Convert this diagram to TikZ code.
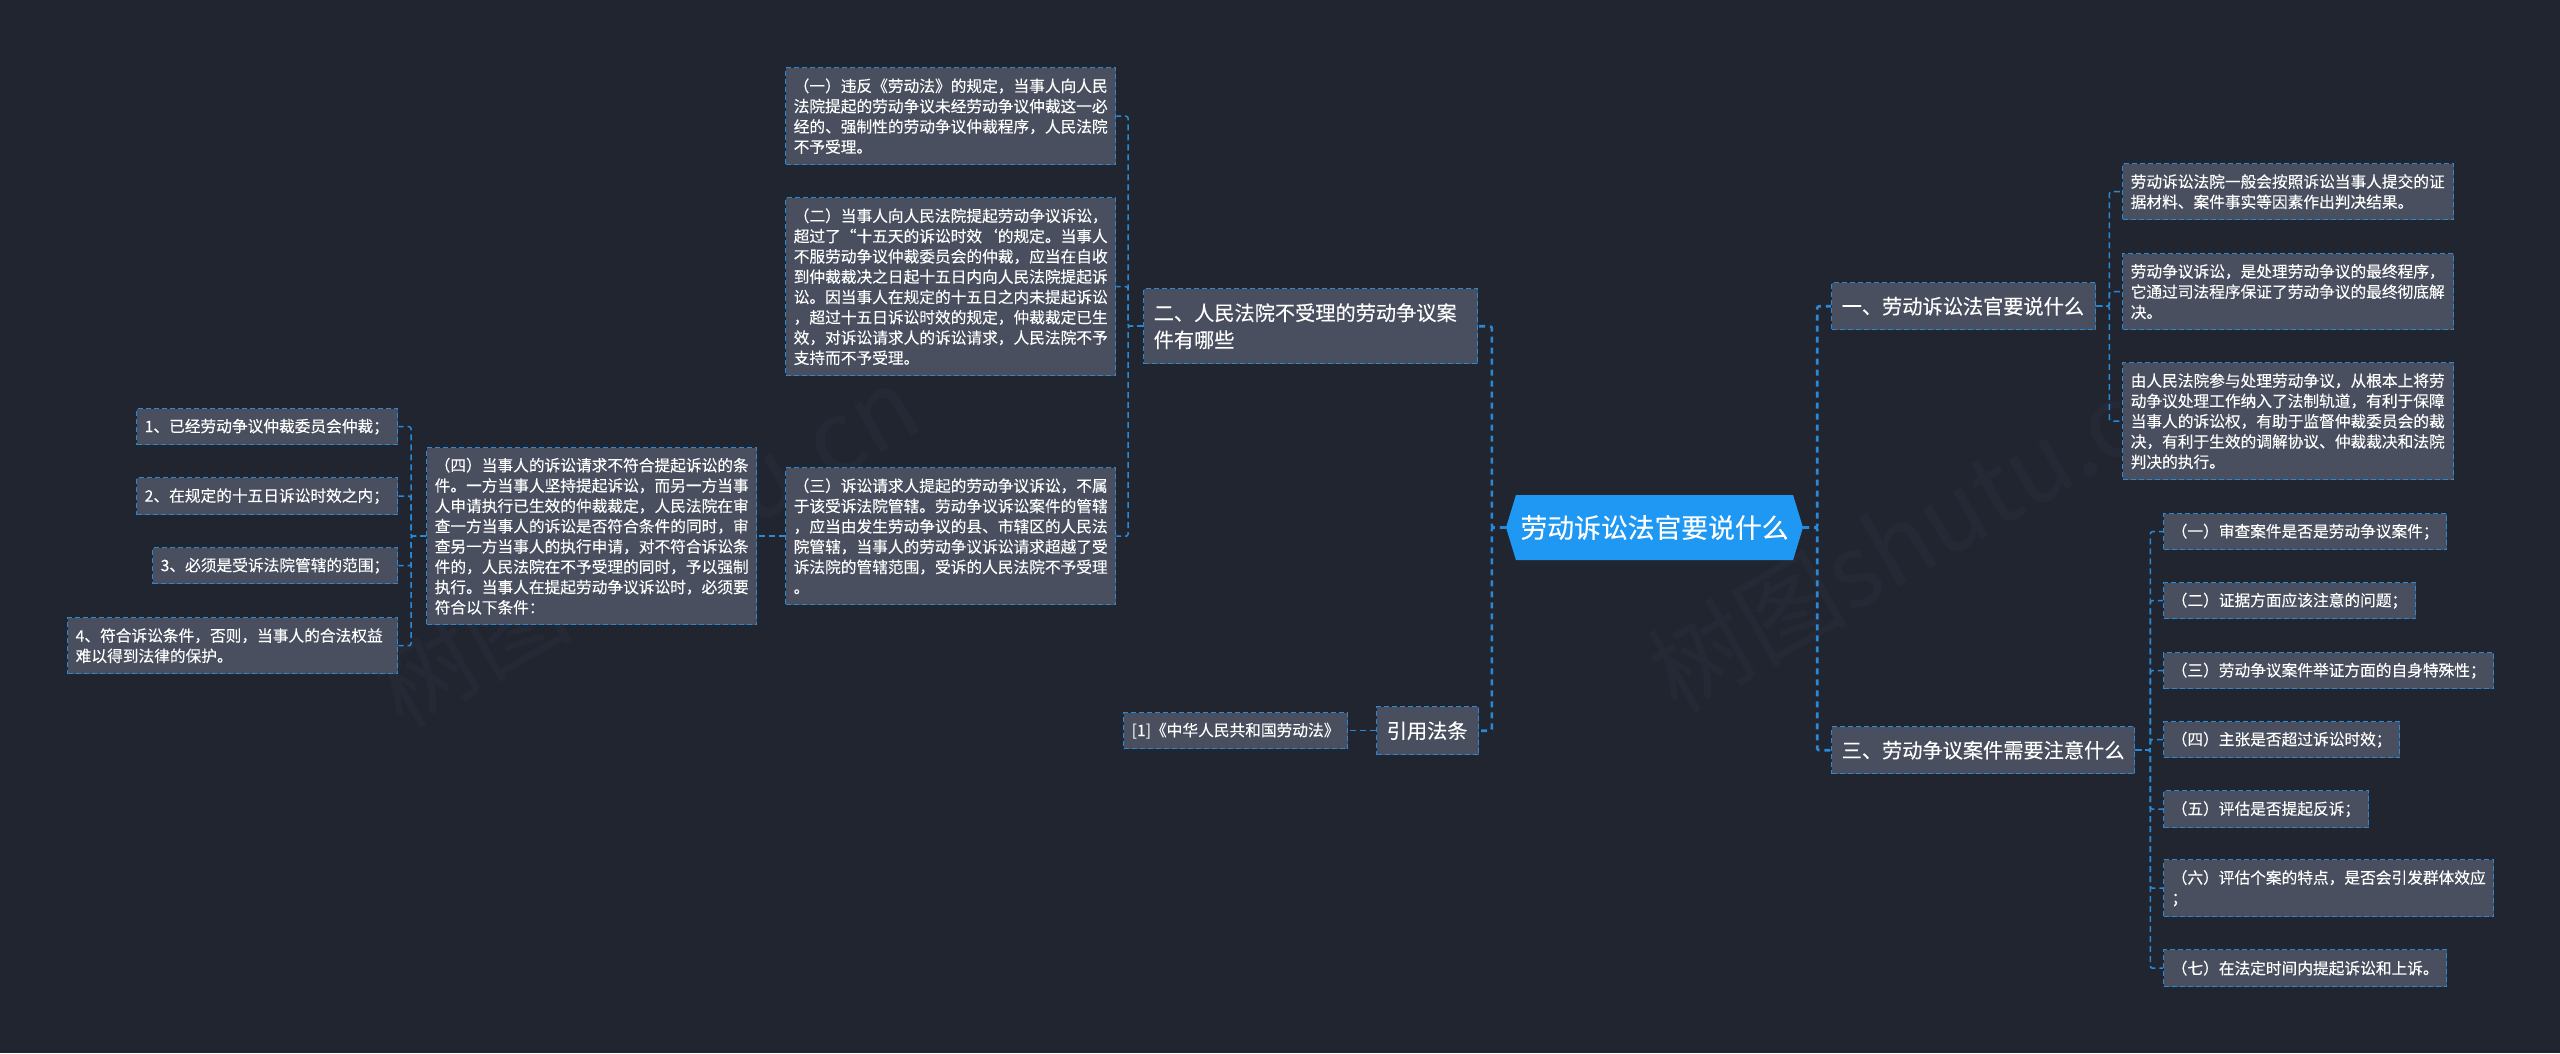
\documentclass[tikz,border=0pt]{standalone}
\usepackage{fontspec}
\setmainfont[FakeBold=0.15]{Noto Sans CJK SC}
\usetikzlibrary{shapes.symbols}
\definecolor{canvas}{RGB}{33,37,48}
\definecolor{boxfill}{RGB}{73,79,94}
\definecolor{linkblue}{RGB}{41,137,214}
\definecolor{rootblue}{RGB}{30,152,242}
\definecolor{mark}{RGB}{37,41,53}
\begin{document}
\begin{tikzpicture}[x=1pt,y=-1pt,
	leaf/.style={draw=linkblue,fill=boxfill,text=white,line width=1.4pt,dash pattern=on 5pt off 3pt,anchor=north west,inner xsep=8pt,inner ysep=0pt,align=left,font=\fontsize{15.7}{20.3}\selectfont},
	branch/.style={leaf,inner xsep=10pt,font=\fontsize{20.2}{27}\selectfont},
	root/.style={shape=signal,signal to=east and west,signal pointer angle=146,fill=rootblue,text=white,inner sep=0pt,minimum width=297pt,minimum height=65pt,font=\fontsize{26.8}{32}\selectfont},
	mainlink/.style={draw=linkblue,line width=2.6pt,dash pattern=on 6pt off 5pt,rounded corners=2pt},
	link/.style={draw=linkblue,line width=1.5pt,dash pattern=on 6pt off 4pt,rounded corners=2pt},
	watermark/.style={text=mark,font=\fontsize{100}{100}\selectfont}]
	\fill[canvas] (0,0) rectangle (2560,1053);
	\useasboundingbox (0,0) rectangle (2560,1053);

	\node[watermark,rotate=30] at (1920,530) (w1) {树图shutu.cn};
	\node[watermark,rotate=30] at (645,545) (w2) {树图shutu.cn};

	\node[root] at (1654.5,527.5) (r) {劳动诉讼法官要说什么};

	\node[branch,text width=314pt,minimum height=75pt] at (1143,288) (b2) {二、人民法院不受理的劳动争议案\\件有哪些};
	\node[branch,text width=82pt,minimum height=48pt] at (1376,706) (b4) {引用法条};
	\node[branch,text width=244pt,minimum height=47pt] at (1831,282) (b1) {一、劳动诉讼法官要说什么};
	\node[branch,text width=283pt,minimum height=47pt] at (1831,726) (b3) {三、劳动争议案件需要注意什么};

	\node[leaf,text width=314pt,minimum height=97pt] at (785,67) (c1) {（一）违反《劳动法》的规定，当事人向人民\\法院提起的劳动争议未经劳动争议仲裁这一必\\经的、强制性的劳动争议仲裁程序，人民法院\\不予受理。};
	\node[leaf,text width=314pt,minimum height=178pt] at (785,197) (c2) {（二）当事人向人民法院提起劳动争议诉讼，\\超过了“十五天的诉讼时效‘的规定。当事人\\不服劳动争议仲裁委员会的仲裁，应当在自收\\到仲裁裁决之日起十五日内向人民法院提起诉\\讼。因当事人在规定的十五日之内未提起诉讼\\，超过十五日诉讼时效的规定，仲裁裁定已生\\效，对诉讼请求人的诉讼请求，人民法院不予\\支持而不予受理。};
	\node[leaf,text width=314pt,minimum height=137pt] at (785,467) (c3) {（三）诉讼请求人提起的劳动争议诉讼，不属\\于该受诉法院管辖。劳动争议诉讼案件的管辖\\，应当由发生劳动争议的县、市辖区的人民法\\院管辖，当事人的劳动争议诉讼请求超越了受\\诉法院的管辖范围，受诉的人民法院不予受理\\。};
	\node[leaf,text width=314pt,minimum height=177pt] at (426,447) (c4) {（四）当事人的诉讼请求不符合提起诉讼的条\\件。一方当事人坚持提起诉讼，而另一方当事\\人申请执行已生效的仲裁裁定，人民法院在审\\查一方当事人的诉讼是否符合条件的同时，审\\查另一方当事人的执行申请，对不符合诉讼条\\件的，人民法院在不予受理的同时，予以强制\\执行。当事人在提起劳动争议诉讼时，必须要\\符合以下条件：};

	\node[leaf,text width=245pt,minimum height=36pt] at (136,408) (d1) {1、已经劳动争议仲裁委员会仲裁；};
	\node[leaf,text width=245pt,minimum height=37pt] at (136,477) (d2) {2、在规定的十五日诉讼时效之内；};
	\node[leaf,text width=229pt,minimum height=36pt] at (152,547) (d3) {3、必须是受诉法院管辖的范围；};
	\node[leaf,text width=314pt,minimum height=56pt] at (67,617) (d4) {4、符合诉讼条件，否则，当事人的合法权益\\难以得到法律的保护。};

	\node[leaf,text width=208pt,minimum height=36pt] at (1123,712) (e1) {[1]《中华人民共和国劳动法》};

	\node[leaf,text width=315pt,minimum height=56pt] at (2122,163) (f1) {劳动诉讼法院一般会按照诉讼当事人提交的证\\据材料、案件事实等因素作出判决结果。};
	\node[leaf,text width=315pt,minimum height=76pt] at (2122,253) (f2) {劳动争议诉讼，是处理劳动争议的最终程序，\\它通过司法程序保证了劳动争议的最终彻底解\\决。};
	\node[leaf,text width=315pt,minimum height=117pt] at (2122,362) (f3) {由人民法院参与处理劳动争议，从根本上将劳\\动争议处理工作纳入了法制轨道，有利于保障\\当事人的诉讼权，有助于监督仲裁委员会的裁\\决，有利于生效的调解协议、仲裁裁决和法院\\判决的执行。};

	\node[leaf,text width=267pt,minimum height=36pt] at (2163,513) (g1) {（一）审查案件是否是劳动争议案件；};
	\node[leaf,text width=236pt,minimum height=36pt] at (2163,582) (g2) {（二）证据方面应该注意的问题；};
	\node[leaf,text width=314pt,minimum height=36pt] at (2163,652) (g3) {（三）劳动争议案件举证方面的自身特殊性；};
	\node[leaf,text width=220pt,minimum height=36pt] at (2163,721) (g4) {（四）主张是否超过诉讼时效；};
	\node[leaf,text width=189pt,minimum height=37pt] at (2163,790) (g5) {（五）评估是否提起反诉；};
	\node[leaf,text width=314pt,minimum height=57pt] at (2163,859) (g6) {（六）评估个案的特点，是否会引发群体效应\\；};
	\node[leaf,text width=267pt,minimum height=37pt] at (2163,949) (g7) {（七）在法定时间内提起诉讼和上诉。};

	\draw[mainlink]	(r.west) -- ++(-14,0) |- (b2.east);
	\draw[mainlink]	(r.west) -- ++(-14,0) |- (b4.east);
	\draw[mainlink]	(r.east) -- ++(14,0) |- (b1.west);
	\draw[mainlink]	(r.east) -- ++(14,0) |- (b3.west);

	\draw[link]	(b2.west) -- ++(-15,0) |- (c1.east);
	\draw[link]	(b2.west) -- ++(-15,0) |- (c2.east);
	\draw[link]	(b2.west) -- ++(-15,0) |- (c3.east);
	\draw[link]	(c3.west) -- (c4.east);

	\draw[link]	(c4.west) -- ++(-15,0) |- (d1.east);
	\draw[link]	(c4.west) -- ++(-15,0) |- (d2.east);
	\draw[link]	(c4.west) -- ++(-15,0) |- (d3.east);
	\draw[link]	(c4.west) -- ++(-15,0) |- (d4.east);

	\draw[link]	(b4.west) -- (e1.east);

	\draw[link]	(b1.east) -- ++(13,0) |- (f1.west);
	\draw[link]	(b1.east) -- ++(13,0) |- (f2.west);
	\draw[link]	(b1.east) -- ++(13,0) |- (f3.west);

	\draw[link]	(b3.east) -- ++(15,0) |- (g1.west);
	\draw[link]	(b3.east) -- ++(15,0) |- (g2.west);
	\draw[link]	(b3.east) -- ++(15,0) |- (g3.west);
	\draw[link]	(b3.east) -- ++(15,0) |- (g4.west);
	\draw[link]	(b3.east) -- ++(15,0) |- (g5.west);
	\draw[link]	(b3.east) -- ++(15,0) |- (g6.west);
	\draw[link]	(b3.east) -- ++(15,0) |- (g7.west);
\end{tikzpicture}
\end{document}
